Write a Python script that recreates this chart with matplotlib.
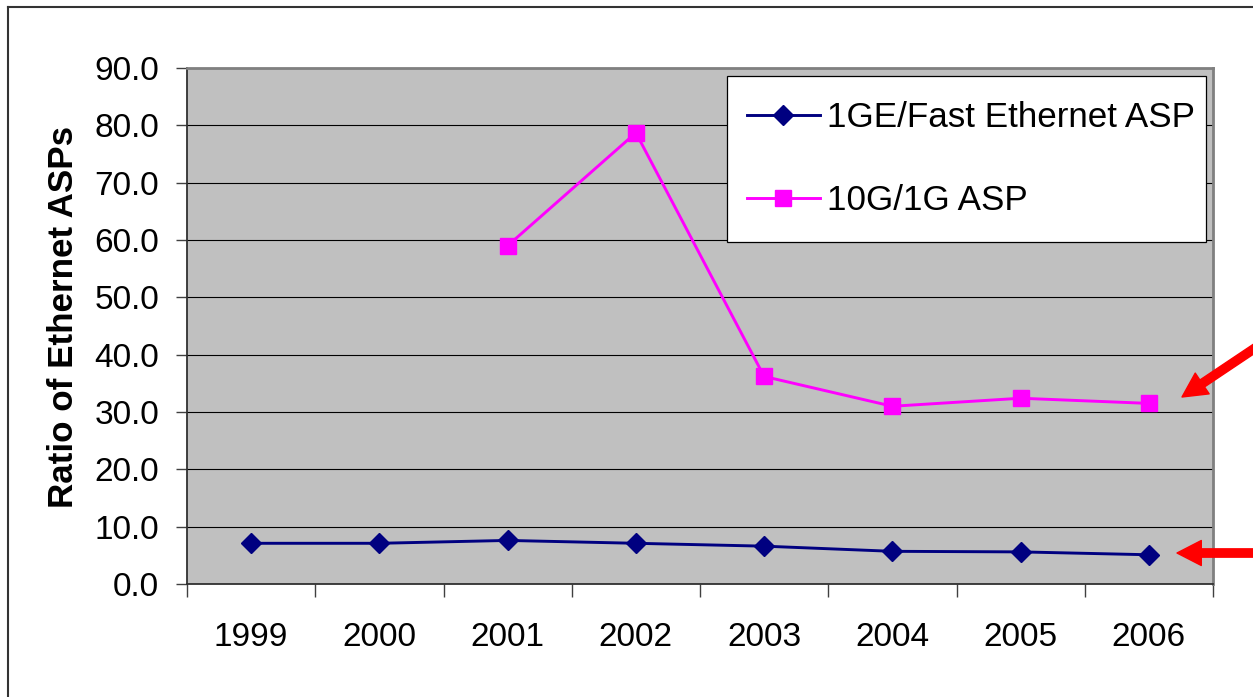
import matplotlib
matplotlib.use("Agg")
import matplotlib.pyplot as plt
from matplotlib.patches import FancyArrowPatch, Rectangle
from matplotlib.lines import Line2D
import numpy as np

years = ["1999", "2000", "2001", "2002", "2003", "2004", "2005", "2006"]
ge_fe = [7.1, 7.1, 7.6, 7.1, 6.6, 5.7, 5.6, 5.1]
g10_g1 = [np.nan, np.nan, 59.0, 78.7, 36.2, 31.0, 32.4, 31.5]
yticks = [0, 10, 20, 30, 40, 50, 60, 70, 80, 90]
series_labels = ["1GE/Fast Ethernet ASP", "10G/1G ASP"]
ylabel = "Ratio of Ethernet ASPs"

plt.rcParams['font.family'] = ['Liberation Sans', 'DejaVu Sans']

W, H = 1253, 697
fig = plt.figure(figsize=(W / 100, H / 100), dpi=100)
fig.patch.set_facecolor('white')

L, R, T, B = 187, 1213, 68, 584
ax = fig.add_axes([L / W, 1 - B / H, (R - L) / W, (B - T) / H])
ax.set_facecolor('#C0C0C0')

x = np.arange(len(years))
ax.plot(x, ge_fe, color='#000080', lw=2.1, marker='D', markersize=10,
        markeredgecolor='#000080', markerfacecolor='#000080', label=series_labels[0], zorder=3)
ax.plot(x, g10_g1, color='#FF00FF', lw=2.1, marker='s', markersize=11.5,
        markeredgecolor='#FF00FF', markerfacecolor='#FF00FF', label=series_labels[1], zorder=3)

ax.set_xlim(-0.5, len(years) - 0.5)
ax.set_ylim(0, 90)
ax.set_yticks(yticks)
ax.set_yticklabels([f"{v:.1f}" for v in yticks])
ax.yaxis.grid(True, color='black', lw=0.8)
ax.set_axisbelow(True)

ax.set_xticks(x)
ax.set_xticklabels(years)
ax.set_xticks(np.arange(-0.5, len(years) + 0.5, 1), minor=True)
ax.tick_params(axis='x', which='major', length=0, pad=27, labelsize=24)
ax.tick_params(axis='x', which='minor', length=9, width=1.0, color='#404040')
ax.tick_params(axis='y', length=8, width=1.0, color='#404040', pad=12, labelsize=24)

for s in ['left', 'bottom']:
    ax.spines[s].set_color('#303030')
    ax.spines[s].set_linewidth(1.3)
for s in ['top', 'right']:
    ax.spines[s].set_color('#808080')
    ax.spines[s].set_linewidth(2.0)

ax.set_ylabel(ylabel, fontsize=25.2, fontweight='bold')
ax.yaxis.set_label_coords((80 - L) / (R - L), (B - 317.5) / (B - T))

# legend: manual frame + frameless legend
ax.add_patch(Rectangle((727 / W, 1 - 242 / H), (1206 - 727) / W, (242 - 76) / H,
                       transform=fig.transFigure, facecolor='white',
                       edgecolor='black', lw=0.9, zorder=4, clip_on=False))
leg = ax.legend(loc='center left', bbox_to_anchor=(747 / W, 1 - 159 / H),
                bbox_transform=fig.transFigure, borderaxespad=0, borderpad=0,
                fontsize=25.2, frameon=False, labelspacing=1.44, handlelength=2.08,
                handletextpad=0.2)
leg.set_zorder(5)

# figure border
fig.lines.append(Line2D([8 / W, 8 / W], [0, 1 - 7 / H], transform=fig.transFigure,
                        color='#333333', lw=1.5))
fig.lines.append(Line2D([8 / W, 1], [1 - 7 / H, 1 - 7 / H], transform=fig.transFigure,
                        color='#333333', lw=1.5))

# red arrows
def arrow(tail, tip):
    p = FancyArrowPatch((tail[0] / W, 1 - tail[1] / H), (tip[0] / W, 1 - tip[1] / H),
                        transform=fig.transFigure,
                        arrowstyle='simple,head_width=1.8,head_length=1.75,tail_width=0.6',
                        mutation_scale=10, color='#FF0000', shrinkA=0, shrinkB=0)
    fig.patches.append(p)

arrow((1300, 318), (1182, 397))
arrow((1300, 553), (1177, 553))

fig.savefig('out.png', dpi=100)
